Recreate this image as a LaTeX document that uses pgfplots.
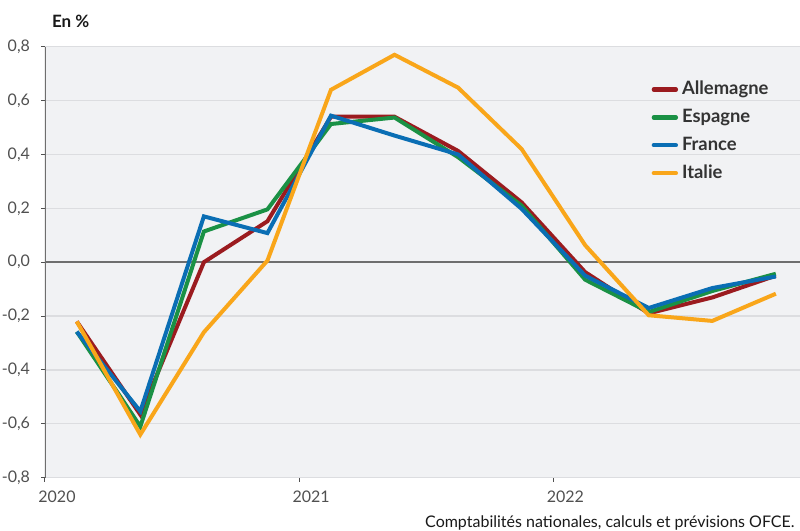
\documentclass[border=0pt]{standalone}
\usepackage{pgfplots}
\pgfplotsset{compat=1.18}
\usepackage{fontspec}
\setmainfont{Lato}
\definecolor{cRed}{HTML}{9B1B1F}
\definecolor{cGreen}{HTML}{1A9145}
\definecolor{cBlue}{HTML}{0A6EB4}
\definecolor{cOrange}{HTML}{F9A61A}
\definecolor{bgcol}{HTML}{F1F2F4}
\definecolor{gridcol}{HTML}{DCDDE0}
\definecolor{tickcol}{HTML}{505050}
\definecolor{axcol}{HTML}{6E6E6E}
\begin{document}
\begin{tikzpicture}
\useasboundingbox (0,0) rectangle (400pt,265.5pt);
\begin{axis}[
  at={(22.5pt,26.65pt)}, anchor=south west,
  scale only axis, width=377.5pt, height=215.5pt,
  xmin=2020, xmax=2022.97, ymin=-0.8, ymax=0.8,
  axis background/.style={fill=bgcol},
  axis line style={draw=none},
  ytick={-0.8,-0.6,...,0.81},
  xtick={2020,2021,2022},
  xticklabels={2020,2021,2022},
  x tick label style={xshift=6pt, yshift=-1pt},
  ymajorgrids, grid style={gridcol, line width=0.6pt},
  tick style={tickcol, line width=0.5pt},
  major tick length=2pt,
  tick align=outside,
  xtick pos=bottom, ytick pos=left,
  ticklabel style={font=\fontsize{8}{9}\selectfont, text=tickcol},
  /pgf/number format/assume math mode=true,
  y tick label style={xshift=-2pt, /pgf/number format/use comma, /pgf/number format/fixed, /pgf/number format/fixed zerofill, /pgf/number format/precision=1},
  legend style={at={(rel axis cs:0.803,0.93)}, anchor=north west, draw=none, fill=none,
    font=\fontsize{9.2}{10}\selectfont\bfseries, text=black!80, row sep=1.7pt, inner sep=0pt},
  legend cell align=left,
  legend image code/.code={\draw[#1, line cap=round, line width=2.2pt] (0pt,0pt) -- (11pt,0pt);},
  every axis plot/.append style={line width=2pt},
]
\draw[axcol, line width=0.9pt] (rel axis cs:0,0) -- (rel axis cs:0,1);
\draw[axcol, line width=0.9pt] (axis cs:2020,0) -- (axis cs:2022.97,0);
\addplot[cRed] coordinates {
(2020.125,-0.22) (2020.375,-0.566) (2020.625,0.0) (2020.875,0.152)
(2021.125,0.54) (2021.375,0.54) (2021.625,0.413) (2021.875,0.222)
(2022.125,-0.037) (2022.375,-0.19) (2022.625,-0.131) (2022.875,-0.05)};
\addlegendentry{Allemagne}
\addplot[cGreen] coordinates {
(2020.125,-0.258) (2020.375,-0.61) (2020.625,0.114) (2020.875,0.196)
(2021.125,0.513) (2021.375,0.537) (2021.625,0.39) (2021.875,0.21)
(2022.125,-0.065) (2022.375,-0.185) (2022.625,-0.107) (2022.875,-0.043)};
\addlegendentry{Espagne}
\addplot[cBlue] coordinates {
(2020.125,-0.258) (2020.375,-0.554) (2020.625,0.17) (2020.875,0.108)
(2021.125,0.544) (2021.375,0.47) (2021.625,0.40) (2021.875,0.198)
(2022.125,-0.05) (2022.375,-0.17) (2022.625,-0.096) (2022.875,-0.053)};
\addlegendentry{France}
\addplot[cOrange] coordinates {
(2020.125,-0.22) (2020.375,-0.64) (2020.625,-0.26) (2020.875,0.006)
(2021.125,0.64) (2021.375,0.77) (2021.625,0.648) (2021.875,0.42)
(2022.125,0.063) (2022.375,-0.197) (2022.625,-0.218) (2022.875,-0.117)};
\addlegendentry{Italie}
\end{axis}
\node[anchor=west, font=\fontsize{8.5}{10}\selectfont\bfseries, text=black!90] at (22.5pt,255pt) {En \%};
\node[anchor=base east, font=\fontsize{8}{10}\selectfont, text=black!90, inner sep=0pt] at (397.5pt,1.5pt) {Comptabilités nationales, calculs et prévisions OFCE.};
\end{tikzpicture}
\end{document}
